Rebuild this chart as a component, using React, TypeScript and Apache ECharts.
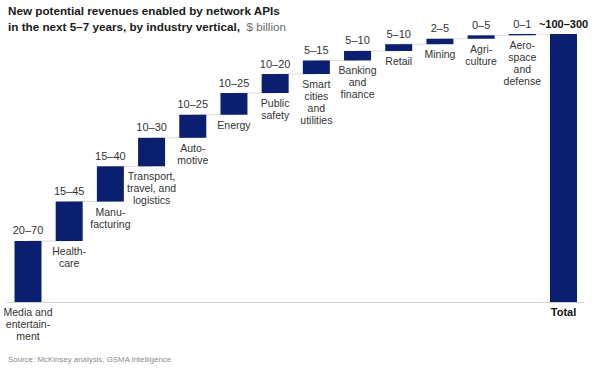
import React, { useEffect, useRef } from "react";
import * as echarts from "echarts";

const categories = [
  "Media and\nentertain-\nment",
  "Health-\ncare",
  "Manu-\nfacturing",
  "Transport,\ntravel, and\nlogistics",
  "Auto-\nmotive",
  "Energy",
  "Public\nsafety",
  "Smart\ncities\nand\nutilities",
  "Banking\nand\nfinance",
  "Retail",
  "Mining",
  "Agri-\nculture",
  "Aero-\nspace\nand\ndefense",
  "Total",
];
const ranges = [
  "20–70",
  "15–45",
  "15–40",
  "10–30",
  "10–25",
  "10–25",
  "10–20",
  "5–15",
  "5–10",
  "5–10",
  "2–5",
  "0–5",
  "0–1",
  "~100–300",
];
// bar heights ($ billion, approx. midpoint of each range)
const values = [45, 29, 26, 21, 17, 16, 14, 10, 7, 5, 4, 2.5, 1];

const FONT = "'Liberation Sans', Arial, sans-serif";
const NAVY = "#0A1F70";
const TEXT = "#333333";

export default function App() {
  const ref = useRef<HTMLDivElement>(null);
  useEffect(() => {
    if (!ref.current) return;
    const chart = echarts.init(ref.current, null, { renderer: "svg" });
    const bases: number[] = [];
    const tops: number[] = [];
    let acc = 0;
    values.forEach((v) => {
      bases.push(acc);
      acc += v;
      tops.push(acc);
    });
    const total = acc;
    bases.push(0);
    tops.push(total);
    const shown = [...values, total];
    const last = categories.length - 1;

    chart.setOption({
      animation: false,
      textStyle: { fontFamily: FONT },
      title: [
        {
          left: 8,
          top: 2.5,
          padding: 0,
          text:
            "{b|New potential revenues enabled by network APIs}\n{b|in the next 5–7 years, by industry vertical,}{g|  $ billion}",
          textStyle: {
            fontWeight: "normal",
            rich: {
              b: { fontFamily: FONT, fontWeight: "bold", fontSize: 11.7, color: "#1a1a1a", lineHeight: 16 },
              g: { fontFamily: FONT, fontWeight: "normal", fontSize: 11.7, color: "#6a6a6a", lineHeight: 16 },
            },
          },
        },
        {
          left: 8,
          top: 355,
          padding: 0,
          text: "Source: McKinsey analysis, GSMA intelligence",
          textStyle: { fontFamily: FONT, fontSize: 7.9, fontWeight: "normal", color: "#8a8a8a" },
        },
      ],
      grid: { left: 7.4, right: 17.9, top: 34, bottom: 69 },
      xAxis: {
        type: "category",
        data: categories,
        axisLine: { lineStyle: { color: "#cfcfcf", width: 1 } },
        axisTick: { show: false },
        axisLabel: {
          interval: 0,
          margin: 4,
          fontFamily: FONT,
          fontSize: 10.5,
          lineHeight: 12,
          color: TEXT,
          formatter: (v: string, i: number) => (i === 0 ? v : i === last ? "{t|Total}" : ""),
          rich: {
            t: { fontFamily: FONT, fontWeight: "bold", fontSize: 11, color: "#111" },
          },
        },
      },
      yAxis: { type: "value", min: 0, max: total, show: false },
      series: [
        {
          type: "line",
          data: tops,
          step: "end",
          symbol: "none",
          z: 1,
          lineStyle: { color: "#dcdcdc", width: 1 },
          silent: true,
        },
        {
          type: "bar",
          stack: "w",
          data: bases,
          barWidth: 27,
          z: 2,
          itemStyle: { color: "transparent" },
          label: {
            show: true,
            position: "insideTop",
            distance: 4,
            fontFamily: FONT,
            fontSize: 10.5,
            lineHeight: 12,
            color: TEXT,
            formatter: (p: any) =>
              p.dataIndex === 0 || p.dataIndex === last ? "" : categories[p.dataIndex],
          },
        },
        {
          type: "bar",
          stack: "w",
          data: shown,
          barWidth: 27,
          z: 3,
          itemStyle: { color: NAVY },
          label: {
            show: true,
            position: "top",
            distance: 5,
            fontFamily: FONT,
            fontSize: 11,
            color: TEXT,
            formatter: (p: any) =>
              p.dataIndex === last ? "{t|" + ranges[p.dataIndex] + "}" : ranges[p.dataIndex],
            rich: {
              t: { fontFamily: FONT, fontWeight: "bold", fontSize: 11, color: "#111" },
            },
          },
        },
      ],
    });
    return () => chart.dispose();
  }, []);
  return (
    <div
      ref={ref}
      style={{ position: "fixed", left: 0, top: 0, width: 602, height: 371, background: "#fff" }}
    />
  );
}
